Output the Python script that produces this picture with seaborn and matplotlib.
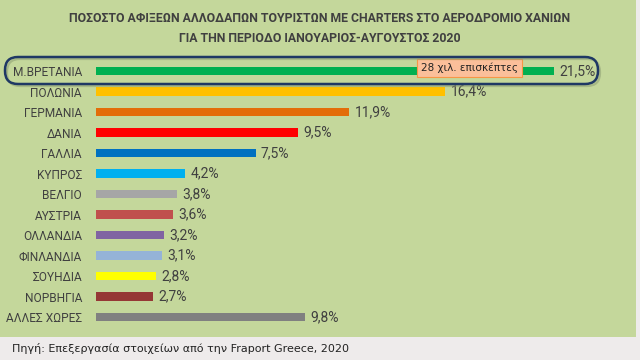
import matplotlib
matplotlib.use("Agg")
import matplotlib.pyplot as plt
import matplotlib.patches as mpatches
from matplotlib.transforms import IdentityTransform
import seaborn as sns
import pandas as pd

countries = ["Μ.ΒΡΕΤΑΝΙΑ", "ΠΟΛΩΝΙΑ", "ΓΕΡΜΑΝΙΑ", "ΔΑΝΙΑ", "ΓΑΛΛΙΑ", "ΚΥΠΡΟΣ",
             "ΒΕΛΓΙΟ", "ΑΥΣΤΡΙΑ", "ΟΛΛΑΝΔΙΑ", "ΦΙΝΛΑΝΔΙΑ", "ΣΟΥΗΔΙΑ", "ΝΟΡΒΗΓΙΑ",
             "ΑΛΛΕΣ ΧΩΡΕΣ"]
shares = [21.5, 16.4, 11.9, 9.5, 7.5, 4.2, 3.8, 3.6, 3.2, 3.1, 2.8, 2.7, 9.8]
colors = ["#00B050", "#FFC000", "#E36C09", "#FF0000", "#0070C0", "#00B0F0",
          "#A6A6A6", "#C0504D", "#8064A2", "#95B3D7", "#FFFF00", "#953735",
          "#808080"]
title = ("ΠΟΣΟΣΤΟ ΑΦΙΞΕΩΝ ΑΛΛΟΔΑΠΩΝ ΤΟΥΡΙΣΤΩΝ ΜΕ CHARTERS ΣΤΟ ΑΕΡΟΔΡΟΜΙΟ ΧΑΝΙΩΝ\n"
         "ΓΙΑ ΤΗΝ ΠΕΡΙΟΔΟ ΙΑΝΟΥΑΡΙΟΣ-ΑΥΓΟΥΣΤΟΣ 2020")
callout = "28 χιλ. επισκέπτες"
source = "Πηγή: Επεξεργασία στοιχείων από την Fraport Greece, 2020"

df = pd.DataFrame({"country": countries, "share": shares})

sns.set_style("white")
plt.rcParams["font.family"] = ["Roboto", "DejaVu Sans"]

fig = plt.figure(figsize=(6.4, 3.6), dpi=100, facecolor="#EEEBEB")
# green chart area, behind the axes
fig.patches.append(mpatches.Rectangle((0, 0.064), 0.994, 0.936, transform=fig.transFigure,
                                      facecolor="#C4D79B", edgecolor="none", zorder=-5))

ax = fig.add_axes([0.15, 0.091, 0.787, 0.740])
ax.set_facecolor("none")
sns.barplot(data=df, x="share", y="country", hue="country", palette=colors,
            legend=False, width=0.4, orient="h", ax=ax, saturation=1, linewidth=0)
ax.set_xlim(0, 23.66)
ax.set_xlabel("")
ax.set_ylabel("")
ax.set_xticks([])
sns.despine(ax=ax, left=True, bottom=True)
ax.tick_params(axis="y", length=0, pad=10)
for lab in ax.get_yticklabels():
    lab.set_fontsize(8.6)
    lab.set_color("#404040")

for i, v in enumerate(shares):
    ax.text(v + 0.25, i, f"{v:.1f}%".replace(".", ","), va="center", ha="left",
            fontsize=10, color="#404040")

ax.text(17.55, -0.15, callout, ha="center", va="center", fontsize=7.5, color="#222222",
        family=["DejaVu Sans"],
        bbox=dict(boxstyle="square,pad=0.35", fc="#FBBF9A", ec="#F79646", lw=0.8))

# rounded highlight around first row
shadow = mpatches.FancyBboxPatch((7, 274), 593, 27, boxstyle="round,pad=0,rounding_size=13",
                                 transform=IdentityTransform(), fc="none", ec="#8A9A70",
                                 lw=1.6, alpha=0.5, zorder=1)
box = mpatches.FancyBboxPatch((5, 276), 593, 27, boxstyle="round,pad=0,rounding_size=13",
                              transform=IdentityTransform(), fc="none", ec="#1F3864",
                              lw=1.8, zorder=2)
fig.patches.extend([shadow, box])

fig.text(0.5, 0.921, title, ha="center", va="center", fontsize=8.8, color="#404040",
         weight="bold", linespacing=1.75)
fig.text(0.019, 0.033, source, ha="left", va="center", fontsize=8, color="#222222",
         family=["DejaVu Sans"])

fig.savefig("out.png", dpi=100, facecolor=fig.get_facecolor())
